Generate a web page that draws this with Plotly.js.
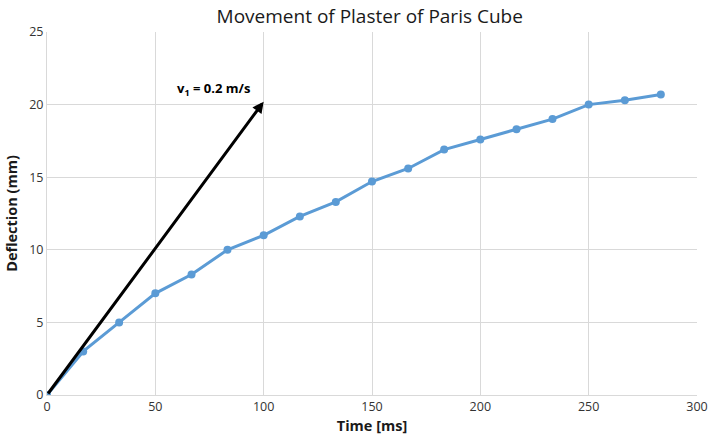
<!DOCTYPE html>
<html>
<head>
<meta charset="utf-8">
<script src="https://cdn.plot.ly/plotly-3.0.1.min.js"></script>
<style>html,body{margin:0;padding:0;background:#fff;}#chart{width:711px;height:441px;}</style>
</head>
<body>
<div id="chart"></div>
<script>
const timeMs = [0, 16.7, 33.3, 50, 66.7, 83.3, 100, 116.7, 133.3, 150, 166.7, 183.3, 200, 216.7, 233.3, 250, 266.7, 283.3];
const deflectionMm = [0, 3.0, 5.0, 7.0, 8.3, 10.0, 11.0, 12.3, 13.3, 14.7, 15.6, 16.9, 17.6, 18.3, 19.0, 20.0, 20.3, 20.7];
const arrowStart = [0, 0];
const arrowEnd = [100, 20.2];
const arrowLabel = 'v<sub>1</sub> = 0.2 m/s';
const labelPos = [77, 21.1];

const trace = {
  x: timeMs, y: deflectionMm, type: 'scatter', mode: 'lines+markers',
  line: {color: '#5B9BD5', width: 3},
  marker: {color: '#5B9BD5', size: 8},
  hoverinfo: 'skip', showlegend: false
};

const layout = {
  width: 711, height: 441,
  margin: {l: 47, r: 14, t: 32, b: 46},
  paper_bgcolor: '#fff', plot_bgcolor: '#fff',
  font: {family: 'Open Sans, sans-serif', color: '#404040'},
  title: {text: 'Movement of Plaster of Paris Cube', x: 0.52, xanchor: 'center', y: 0.978, yanchor: 'top',
          font: {size: 19, color: '#1a1a1a', family: 'Open Sans, sans-serif'}},
  xaxis: {
    range: [0, 300], tickvals: [0, 50, 100, 150, 200, 250, 300],
    showgrid: true, gridcolor: '#d9d9d9', gridwidth: 1,
    showline: true, linecolor: '#d9d9d9', zeroline: false, ticks: '',
    tickfont: {size: 12.5, color: '#333333'},
    title: {text: '<b>Time [ms]</b>', font: {size: 14.5, color: '#1a1a1a'}, standoff: 6}
  },
  yaxis: {
    range: [0, 25], tickvals: [0, 5, 10, 15, 20, 25],
    showgrid: true, gridcolor: '#d9d9d9', gridwidth: 1,
    showline: true, linecolor: '#d9d9d9', zeroline: false, ticks: '',
    tickfont: {size: 12.5, color: '#333333'},
    title: {text: '<b>Deflection (mm)</b>', font: {size: 14.5, color: '#1a1a1a'}, standoff: 8}
  },
  annotations: [
    {x: arrowEnd[0], y: arrowEnd[1], ax: arrowStart[0], ay: arrowStart[1],
     xref: 'x', yref: 'y', axref: 'x', ayref: 'y', text: '', showarrow: true,
     arrowhead: 2, arrowsize: 0.75, arrowwidth: 3, arrowcolor: '#000'},
    {x: labelPos[0], y: labelPos[1], xref: 'x', yref: 'y', text: '<b>' + arrowLabel + '</b>',
     showarrow: false, font: {size: 13, color: '#000'}}
  ]
};

Plotly.newPlot('chart', [trace], layout, {staticPlot: true, displayModeBar: false});
</script>
</body>
</html>
